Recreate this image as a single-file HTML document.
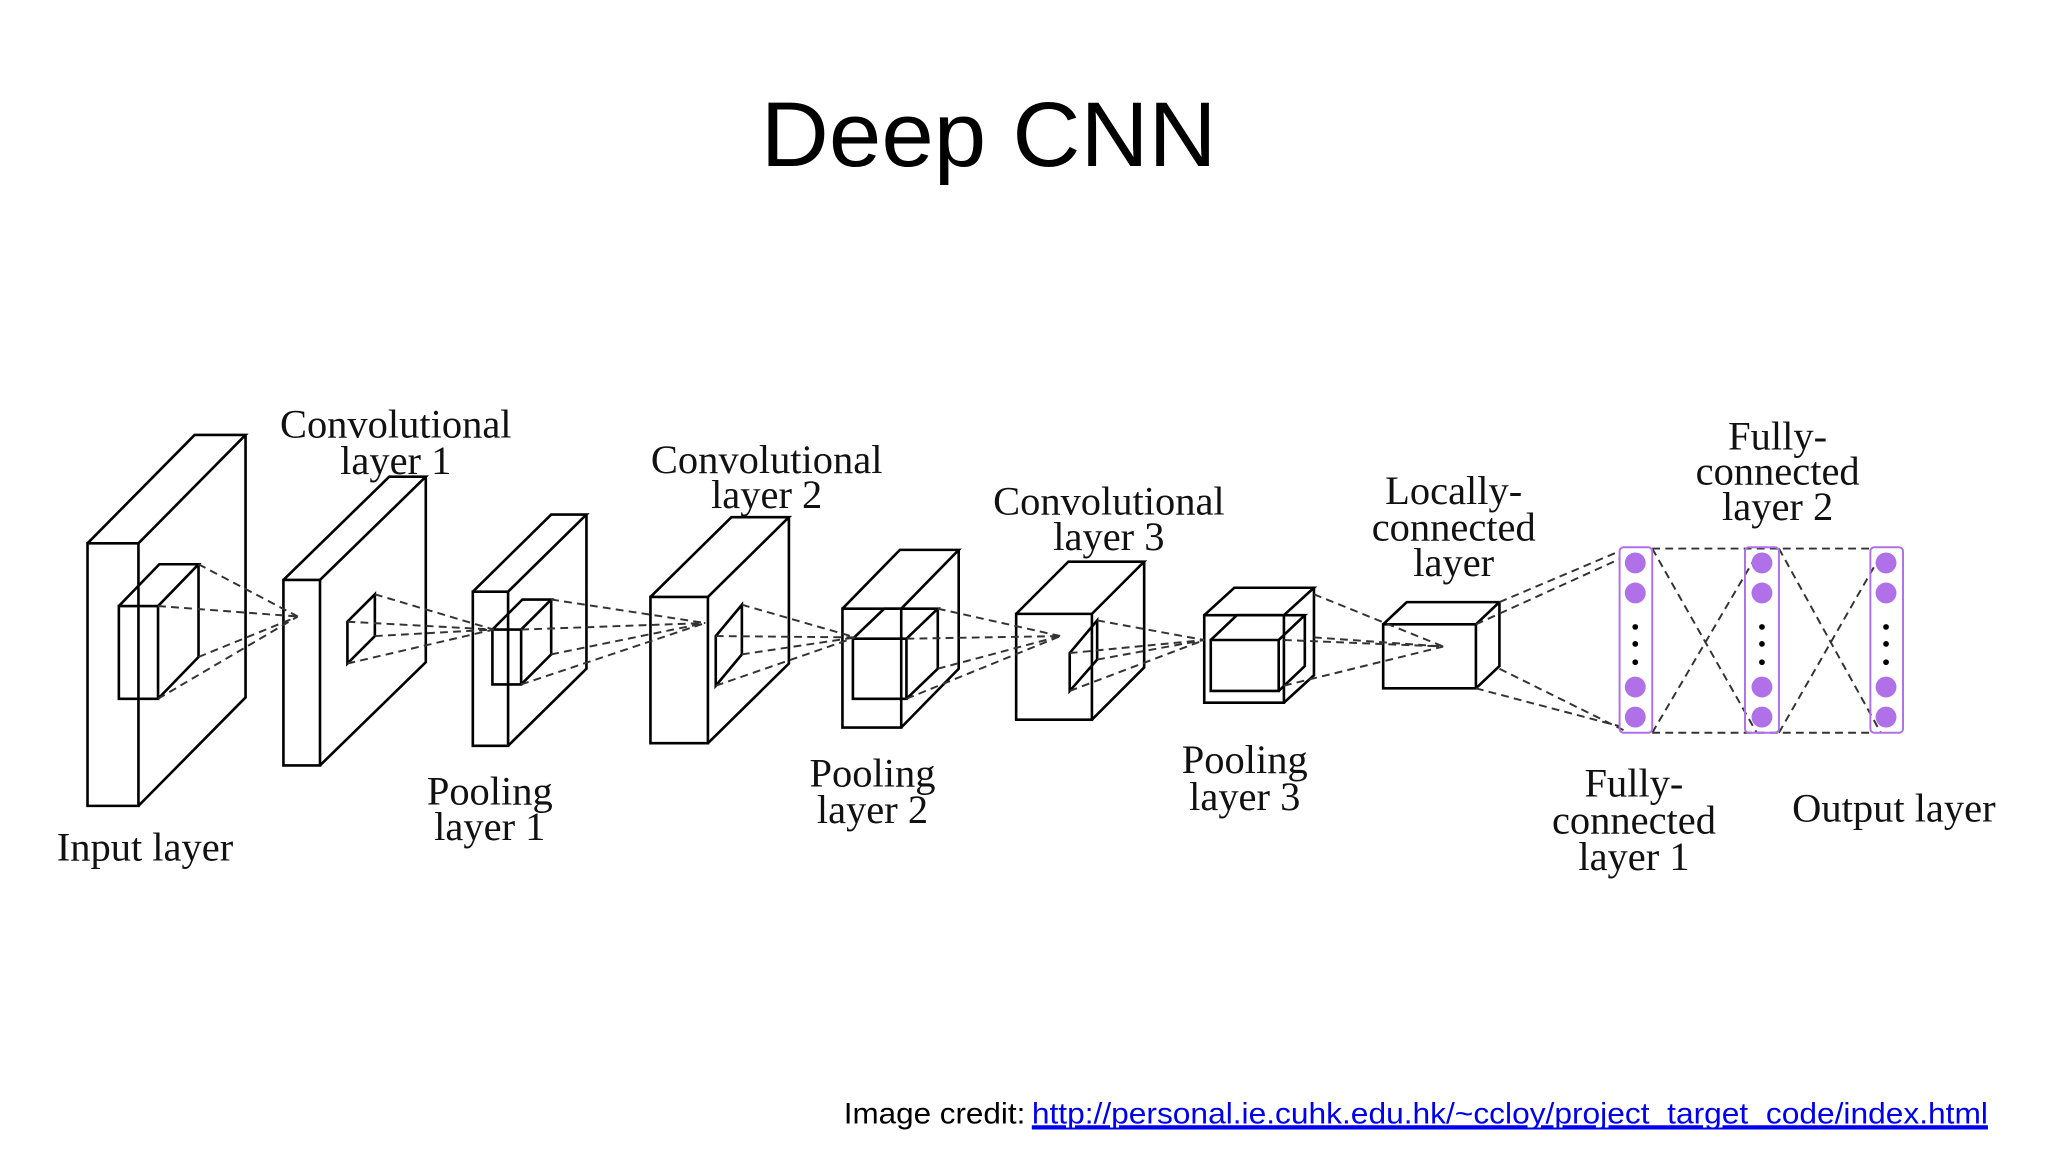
<!DOCTYPE html>
<html><head><meta charset="utf-8"><style>
html,body{margin:0;padding:0;background:#fff;}
svg{display:block;}
</style></head><body>
<svg width="2048" height="1152" viewBox="0 0 1568 882" xmlns="http://www.w3.org/2000/svg">
<rect width="1568" height="882" fill="#fff"/>
<text x="757" y="127" text-anchor="middle" font-family="Liberation Sans, sans-serif" font-size="70" textLength="349" lengthAdjust="spacingAndGlyphs" fill="#000">Deep CNN</text>

<g fill="none" stroke="#000" stroke-width="2" stroke-linejoin="miter">
<path d="M67,416h39v201h-39z M67,416l82,-83h39l-82,83 M188,333v201l-82,83"/>
<path d="M91,464h30v71h-30z M91,464l31,-32h30l-31,32 M152,432v71l-31,32"/>
<path d="M217,444h28v142h-28z M217,444l81,-79h28l-81,79 M326,365v142l-81,79"/>
<path d="M266,476L287,455L287,487L266,508Z"/>
<path d="M362,453h27v118h-27z M362,453l60,-59h27l-60,59 M449,394v118l-60,59"/>
<path d="M377,482h22v42h-22z M377,482l23,-23h22l-23,23 M422,459v42l-23,23"/>
<path d="M498,457h44v112h-44z M498,457l62,-61h44l-62,61 M604,396v112l-62,61"/>
<path d="M548,487L568,463L568,501L548,525Z"/>
<path d="M645,466h45v91h-45z M645,466l44,-45h45l-44,45 M734,421v91l-44,45"/>
<path d="M653,489h41v46h-41z M653,489l24,-23h41l-24,23 M718,466v46l-24,23"/>
<path d="M778,470h58v81h-58z M778,470l40,-40h58l-40,40 M876,430v81l-40,40"/>
<path d="M819,500L840,475L840,505L819,529Z"/>
<path d="M922,471h61v67h-61z M922,471l23,-21h61l-23,21 M1006,450v67l-23,21"/>
<path d="M927,490h52v39h-52z M927,490l20,-19h52l-20,19 M999,471v39l-20,19"/>
<path d="M1059,478h71v49h-71z M1059,478l18,-17h71l-18,17 M1148,461v49l-18,17"/>
</g>

<g fill="none" stroke="#333" stroke-width="1.5" stroke-dasharray="6,4">
<path d="M152,432L228,472 M121,464L228,472 M152,503L228,472 M121,535L228,472"/>
<path d="M287,455L378,482 M287,487L378,482 M266,476L378,482 M266,508L378,482"/>
<path d="M422,459L540,477 M422,501L540,477 M399,482L540,477 M399,524L540,477"/>
<path d="M568,463L655,488 M568,501L655,488 M548,487L655,488 M548,525L655,488"/>
<path d="M718,466L812,487 M718,512L812,487 M694,489L812,487 M694,535L812,487"/>
<path d="M840,475L922,490 M840,505L922,490 M819,500L922,490 M819,529L922,490"/>
<path d="M1006,455L1105,495 M1006,488L1105,495 M983,490L1105,495 M983,525L1105,495"/>
<path d="M1148,461L1240,422 M1130,478L1240,428 M1148,512L1245,560 M1130,527L1240,556"/>
<path d="M1265,420H1432 M1265,561H1432 M1265,420L1345,561 M1265,561L1345,425 M1362,420L1440,561 M1362,561L1440,425"/>
</g>

<g fill="none" stroke="#b070e8" stroke-width="1.5">
<rect x="1240" y="419" width="25" height="142" rx="3"/>
<rect x="1336" y="419" width="26" height="142" rx="3"/>
<rect x="1432" y="419" width="25" height="142" rx="3"/>
</g>
<g fill="#b070e8">
<circle cx="1252" cy="431" r="8"/><circle cx="1252" cy="454" r="8"/><circle cx="1252" cy="526" r="8"/><circle cx="1252" cy="549" r="8"/>
<circle cx="1349" cy="431" r="8"/><circle cx="1349" cy="454" r="8"/><circle cx="1349" cy="526" r="8"/><circle cx="1349" cy="549" r="8"/>
<circle cx="1444" cy="431" r="8"/><circle cx="1444" cy="454" r="8"/><circle cx="1444" cy="526" r="8"/><circle cx="1444" cy="549" r="8"/>
</g>
<g fill="#000">
<circle cx="1252" cy="480" r="2.2"/><circle cx="1252" cy="493" r="2.2"/><circle cx="1252" cy="507" r="2.2"/>
<circle cx="1349" cy="480" r="2.2"/><circle cx="1349" cy="493" r="2.2"/><circle cx="1349" cy="507" r="2.2"/>
<circle cx="1444" cy="480" r="2.2"/><circle cx="1444" cy="493" r="2.2"/><circle cx="1444" cy="507" r="2.2"/>
</g>

<g font-family="Liberation Serif, serif" font-size="31" text-anchor="middle" fill="#111">
<text x="303" y="335">Convolutional</text><text x="303" y="363">layer 1</text>
<text x="587" y="362">Convolutional</text><text x="587" y="389">layer 2</text>
<text x="849" y="394">Convolutional</text><text x="849" y="421">layer 3</text>
<text x="1113" y="386">Locally-</text><text x="1113" y="414">connected</text><text x="1113" y="441">layer</text>
<text x="1361" y="344">Fully-</text><text x="1361" y="371">connected</text><text x="1361" y="398">layer 2</text>
<text x="111" y="659">Input layer</text>
<text x="375" y="616">Pooling</text><text x="375" y="643">layer 1</text>
<text x="668" y="602">Pooling</text><text x="668" y="630">layer 2</text>
<text x="953" y="592">Pooling</text><text x="953" y="620">layer 3</text>
<text x="1251" y="610">Fully-</text><text x="1251" y="638">connected</text><text x="1251" y="666">layer 1</text>
<text x="1450" y="629">Output layer</text>
</g>

<g font-family="Liberation Sans, sans-serif" font-size="23">
<text x="646" y="860" textLength="139" lengthAdjust="spacingAndGlyphs" fill="#000">Image credit:</text>
<text x="790" y="860" textLength="732" lengthAdjust="spacingAndGlyphs" fill="#0000ee" text-decoration="underline">http://personal.ie.cuhk.edu.hk/~ccloy/project_target_code/index.html</text>
<line x1="790" y1="864" x2="1522" y2="864" stroke="#0000ee" stroke-width="1.5"/>
</g>
</svg>
</body></html>
